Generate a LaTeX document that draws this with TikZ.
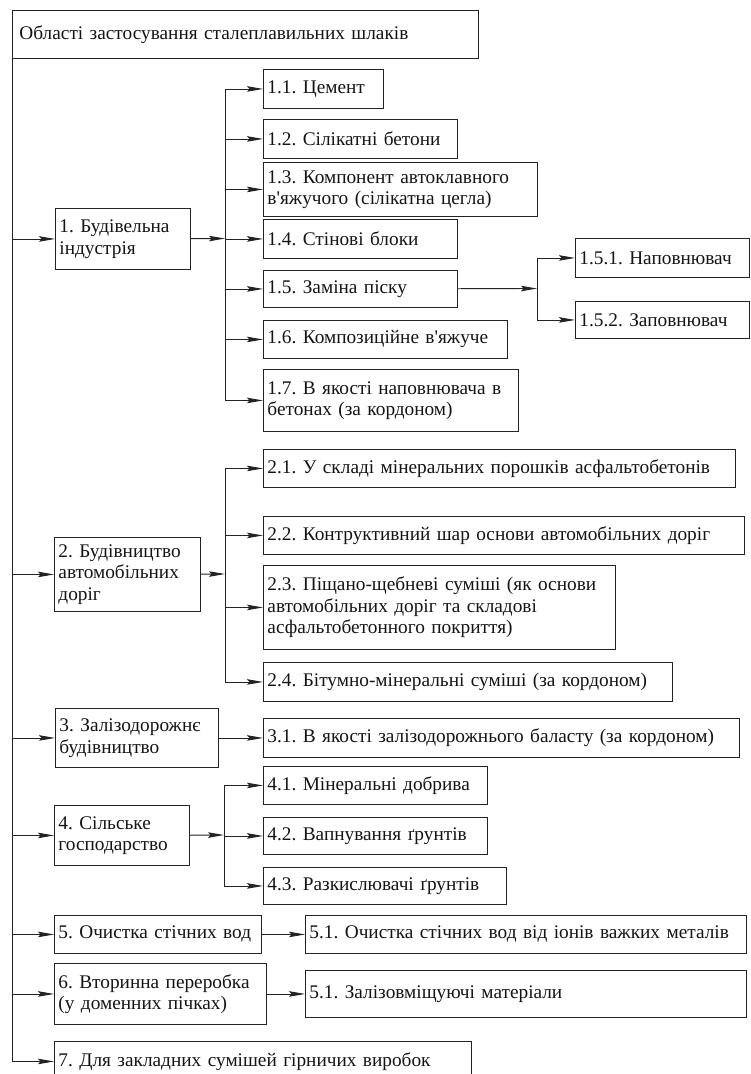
\documentclass[tikz,border=0pt]{standalone}
\usepackage{fontspec}
\setmainfont{Liberation Serif}[Ligatures=TeXOff]
\usepackage{xcolor}
\usepackage{tikz}
\usetikzlibrary{arrows.meta, positioning, calc}
\definecolor{lineDark}{RGB}{35, 35, 35}
\definecolor{textDark}{RGB}{20, 20, 20}
\frenchspacing

\begin{document}
\begin{tikzpicture}[
    x=1pt, y=-1pt,
    % Node styles
    box/.style={
        rectangle,
        draw=lineDark,
        line width=0.9pt,
        anchor=north west,
        align=left,
        inner xsep=4pt,
        inner ysep=1pt,
        font=\fontsize{19.3}{21.5}\selectfont,
        text=textDark
    },
    arrow/.style={
        -{Stealth[length=16pt, width=5.5pt, inset=2.5pt]},
        line width=0.9pt,
        color=lineDark
    }
]
\useasboundingbox (0,0) rectangle (750,1074);

% Title
\node[box, text width=452pt, minimum height=48pt, inner xsep=7pt] (top) at (12,10) {Області застосування сталеплавильних шлаків};

% First level
\node[box, text width=127pt, minimum height=61pt] (g1) at (55,208) {1. Будівельна\\індустрія};
\node[box, text width=138pt, minimum height=74pt] (g2) at (54,537) {2. Будівництво\\автомобільних\\доріг};
\node[box, text width=155pt, minimum height=59pt] (g3) at (55,708) {3. Залізодорожнє\\будівництво};
\node[box, text width=127pt, minimum height=60pt] (g4) at (54,805) {4. Сільське\\господарство};
\node[box, text width=199pt, minimum height=38pt] (g5) at (54,915) {5. Очистка стічних вод};
\node[box, text width=204pt, minimum height=61pt] (g6) at (54,963) {6. Вторинна переробка\\(у доменних пічках)};
\node[box, text width=409pt, minimum height=40pt] (g7) at (54,1041) {7. Для закладних сумішей гірничих виробок};

% Group 1
\node[box, text width=112pt, minimum height=39pt] (c11) at (263,69) {1.1. Цемент};
\node[box, text width=186pt, minimum height=39pt] (c12) at (263,119) {1.2. Сілікатні бетони};
\node[box, text width=266pt, minimum height=54pt] (c13) at (263,162) {1.3. Компонент автоклавного\\в'яжучого (сілікатна цегла)};
\node[box, text width=186pt, minimum height=39pt] (c14) at (263,219) {1.4. Стінові блоки};
\node[box, text width=186pt, minimum height=37pt] (c15) at (263,270) {1.5. Заміна піску};
\node[box, text width=236pt, minimum height=38pt] (c16) at (263,320) {1.6. Композиційне в'яжуче};
\node[box, text width=247pt, minimum height=62pt] (c17) at (263,369) {1.7. В якості наповнювача в\\бетонах (за кордоном)};
\node[box, text width=166pt, minimum height=39pt] (c151) at (575,238) {1.5.1. Наповнювач};
\node[box, text width=166pt, minimum height=37pt] (c152) at (575,301) {1.5.2. Заповнювач};

% Group 2
\node[box, text width=464pt, minimum height=38pt] (c21) at (263,449) {2.1. У складі мінеральних порошків асфальтобетонів};
\node[box, text width=473pt, minimum height=38pt] (c22) at (263,516) {2.2. Контруктивний шар основи автомобільних доріг};
\node[box, text width=344pt, minimum height=84pt] (c23) at (263,565) {2.3. Піщано-щебневі суміші (як основи\\автомобільних доріг та складові\\асфальтобетонного покриття)};
\node[box, text width=401pt, minimum height=39pt] (c24) at (263,662) {2.4. Бітумно-мінеральні суміші (за кордоном)};

% Groups 3 to 6
\node[box, text width=468pt, minimum height=39pt] (c31) at (263,718) {3.1. В якості залізодорожнього баласту (за кордоном)};
\node[box, text width=216pt, minimum height=38pt] (c41) at (263,766) {4.1. Мінеральні добрива};
\node[box, text width=216pt, minimum height=37pt] (c42) at (263,817) {4.2. Вапнування ґрунтів};
\node[box, text width=235pt, minimum height=37pt] (c43) at (263,867) {4.3. Разкислювачі ґрунтів};
\node[box, text width=433pt, minimum height=38pt] (c51) at (305,915) {5.1. Очистка стічних вод від іонів важких металів};
\node[box, text width=433pt, minimum height=47pt] (c61) at (305,970) {5.1. Залізовміщуючі матеріали};

% Branch points
\coordinate (b1) at (225,238.5);
\coordinate (b2) at (225,574);
\coordinate (b4) at (224,835);
\coordinate (b15) at (537,288.5);

% Trunk arrows
\foreach \g in {g1,g2,g3,g4,g5,g6,g7}
    \draw[arrow] (top.south west) |- (\g);

% Group 1 arrows
\draw[arrow] (g1) -- (b1);
\foreach \c in {c11,c12,c13,c14,c15,c16,c17}
    \draw[arrow] (b1) |- (\c);
\draw[arrow] (c15) -- (b15);
\draw[arrow] (b15) |- (c151);
\draw[arrow] (b15) |- (c152);

% Group 2 arrows
\draw[arrow] (g2) -- (b2);
\foreach \c in {c21,c22,c23,c24}
    \draw[arrow] (b2) |- (\c);

% Group 3, 5, 6 arrows
\draw[arrow] (g3) -- (c31);
\draw[arrow] (g5) -- (c51);
\draw[arrow] (g6) -- (c61);

% Group 4 arrows
\draw[arrow] (g4) -- (b4);
\foreach \c in {c41,c42,c43}
    \draw[arrow] (b4) |- (\c);

\end{tikzpicture}
\end{document}
